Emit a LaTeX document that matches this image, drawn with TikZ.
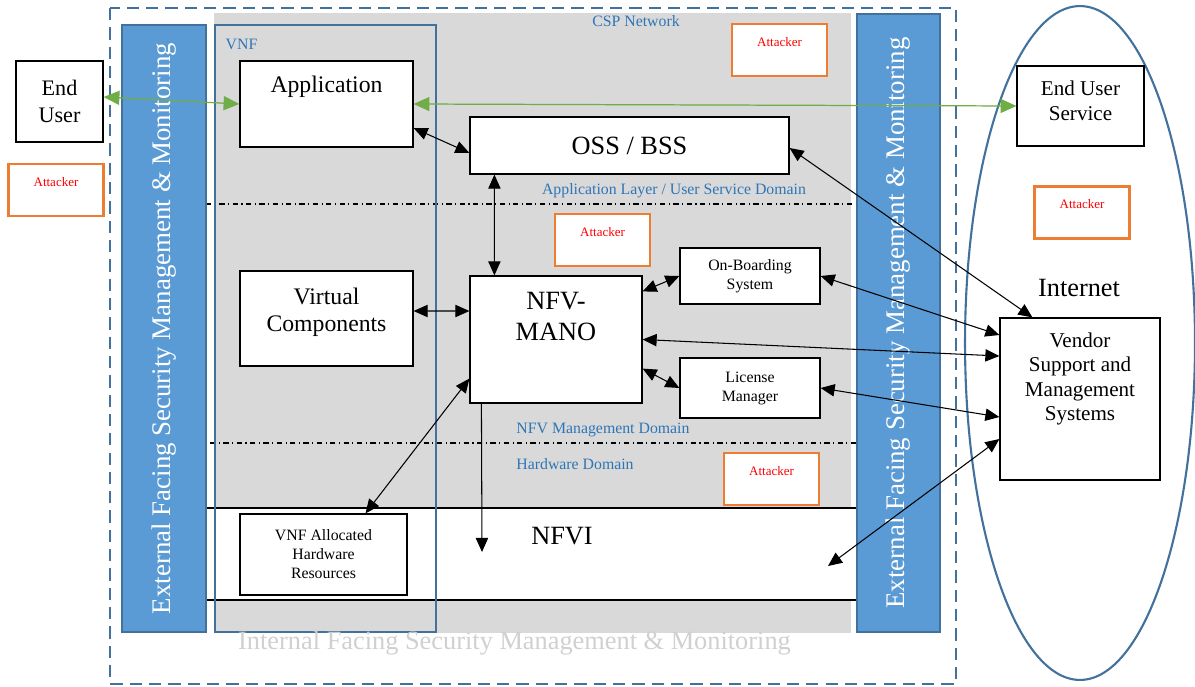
\documentclass[tikz,border=0pt]{standalone}
\usepackage{fontspec}
\setmainfont{Liberation Serif}
\usetikzlibrary{arrows.meta}

\definecolor{barblue}{HTML}{5B9BD5}
\definecolor{edgeblue}{HTML}{41719C}
\definecolor{textblue}{HTML}{2E75B6}
\definecolor{attackorange}{HTML}{ED7D31}
\definecolor{linkgreen}{HTML}{70AD47}
\definecolor{zonegray}{HTML}{D9D9D9}
\definecolor{faintgray}{HTML}{D0D0D0}

\begin{document}
\begin{tikzpicture}[x=0.02cm,y=-0.02cm,>={Triangle[length=8pt,width=7pt]},line width=0.6pt,
  main box/.style={draw,line width=0.7pt,fill=white,inner sep=1pt,align=center,font=\fontsize{13.5}{15.4}\selectfont},
  small box/.style={main box,font=\fontsize{9}{10.8}\selectfont},
  top text/.style={anchor=north,inner sep=0,align=center},
  attack box/.style={draw=attackorange,line width=1.6pt,fill=white,minimum width=1.9cm,minimum height=1.04cm,
    label={[top text,yshift=-0.28cm,text=red,font=\fontsize{7.4}{9}\selectfont]north:Attacker}},
  sec bar/.style={draw=edgeblue,line width=1.2pt,fill=barblue,rotate=90,text=white,font=\fontsize{15.3}{18}\selectfont},
  domain label/.style={text=textblue,inner sep=0,font=\fontsize{9}{11}\selectfont},
  link/.style={<->,line width=0.6pt},
  green link/.style={{Triangle[length=9pt,width=8pt]}-{Triangle[length=9pt,width=8pt]},draw=linkgreen,fill=linkgreen,line width=0.7pt}]

  \useasboundingbox (0,0) rectangle (1195,686);

  % zones of the CSP network
  \fill[zonegray] (214,13) rectangle (851,633);
  \fill[white] (206,508) rectangle (857,600);
  \draw (206,508) -- (857,508) (206,600) -- (857,600);
  \draw[dash dot] (206,204) -- (857,204) (210,443) -- (857,443);
  \draw[edgeblue,line width=1.2pt] (215,25) rectangle (436,632);
  \draw[edgeblue,line width=1.2pt,dash pattern=on 7pt off 4pt] (110,8) rectangle (956,684);
  \draw[edgeblue,line width=1.2pt] (1080,343) ellipse [x radius=2.3cm, y radius=6.74cm];

  \node[sec bar,minimum width=12.14cm,minimum height=1.68cm] (ext left) at (164,328.5) {External Facing Security Management \& Monitoring};
  \node[sec bar,minimum width=12.36cm,minimum height=1.66cm] (ext right) at (898.5,323) {External Facing Security Management \& Monitoring};

  \node[domain label] (vnf label) at (241.5,44) {VNF};
  \node[domain label] (csp label) at (636,21) {CSP Network};
  \node[domain label] (app domain) at (674,191) {Application Layer / User Service Domain};
  \node[domain label] (mgmt domain) at (603,430) {NFV Management Domain};
  \node[domain label] (hw domain) at (575,464) {Hardware Domain};
  \node[inner sep=0,font=\fontsize{15}{18}\selectfont] (nfvi) at (562,536) {NFVI};
  \node[inner sep=0,font=\fontsize{15}{18}\selectfont] (internet) at (1079,288) {Internet};
  \node[inner sep=0,text=faintgray,font=\fontsize{15}{18}\selectfont] (int mon) at (514.5,643) {Internal Facing Security Management \& Monitoring};

  % boxes
  \node[main box,minimum width=1.74cm,minimum height=1.62cm,font=\fontsize{12.6}{15.4}\selectfont] (end user) at (59.5,101.5) {End\\User};
  \node[main box,minimum width=3.46cm,minimum height=1.72cm,
    label={[top text,yshift=-0.3cm,font=\fontsize{13.5}{16}\selectfont]north:Application}] (application) at (326.5,104) {};
  \node[main box,minimum width=6.38cm,minimum height=1.14cm,font=\fontsize{15}{18}\selectfont] (oss) at (629.5,145.5) {OSS / BSS};
  \node[main box,minimum width=3.46cm,minimum height=1.9cm,
    label={[top text,yshift=-0.34cm,font=\fontsize{13.5}{15.4}\selectfont]north:Virtual\\Components}] (virtual) at (326.5,318.5) {};
  \node[main box,minimum width=3.44cm,minimum height=2.54cm,
    label={[top text,yshift=-0.32cm,font=\fontsize{15}{18}\selectfont]north:NFV-\\MANO}] (mano) at (556,339.5) {};
  \node[small box,minimum width=2.8cm,minimum height=1.12cm] (onboarding) at (750,276) {On-Boarding\\System};
  \node[small box,minimum width=2.8cm,minimum height=1.2cm] (license) at (750,388) {License\\Manager};
  \node[small box,minimum width=3.34cm,minimum height=1.62cm] (allocated) at (323.5,554.5) {VNF Allocated\\Hardware\\Resources};
  \node[main box,minimum width=2.54cm,minimum height=1.6cm,
    label={[top text,yshift=-0.3cm,font=\fontsize{12}{14.2}\selectfont]north:End User\\Service}] (eus) at (1080.5,106) {};
  \node[main box,minimum width=3.2cm,minimum height=3.24cm,
    label={[top text,yshift=-0.3cm,font=\fontsize{12}{13.9}\selectfont]north:Vendor\\Support and\\Management\\Systems}] (vendor) at (1080,399) {};

  \node[attack box] (attacker top) at (779.5,50) {};
  \node[attack box] (attacker user) at (56,190) {};
  \node[attack box] (attacker mano) at (602.5,240) {};
  \node[attack box] (attacker hw) at (771.5,479) {};
  \node[attack box] (attacker net) at (1082,212.5) {};

  \coordinate (nfvi tip) at (482,552);
  \coordinate (nfvi end) at (828,566);

  % connections
  \draw[green link] ([yshift=0.09cm]end user.east) -- (application.west);
  \draw[green link] (application.east) -- (eus.west);
  \path[link]
    ([yshift=-0.48cm]application.east) edge ([yshift=-0.15cm]oss.west)
    ([xshift=0.5cm]oss.south west) edge ([xshift=0.5cm]mano.north west)
    ([yshift=0.15cm]virtual.east) edge ([yshift=0.57cm]mano.west)
    ([yshift=-0.32cm]mano.north east) edge (onboarding.west)
    ([yshift=0.7cm]mano.south east) edge (license.west)
    ([yshift=0.5cm]mano.south west) edge ([xshift=0.84cm]allocated.north)
    ([yshift=-0.05cm]oss.east) edge ([xshift=0.66cm]vendor.north west)
    (onboarding.east) edge ([yshift=1.28cm]vendor.west)
    (mano.east) edge ([yshift=0.86cm]vendor.west)
    (license.east) edge ([yshift=-0.36cm]vendor.west)
    (nfvi end) edge ([yshift=-0.8cm]vendor.west);
  \draw[->] ([xshift=0.24cm]mano.south west) -- (nfvi tip);
\end{tikzpicture}
\end{document}
